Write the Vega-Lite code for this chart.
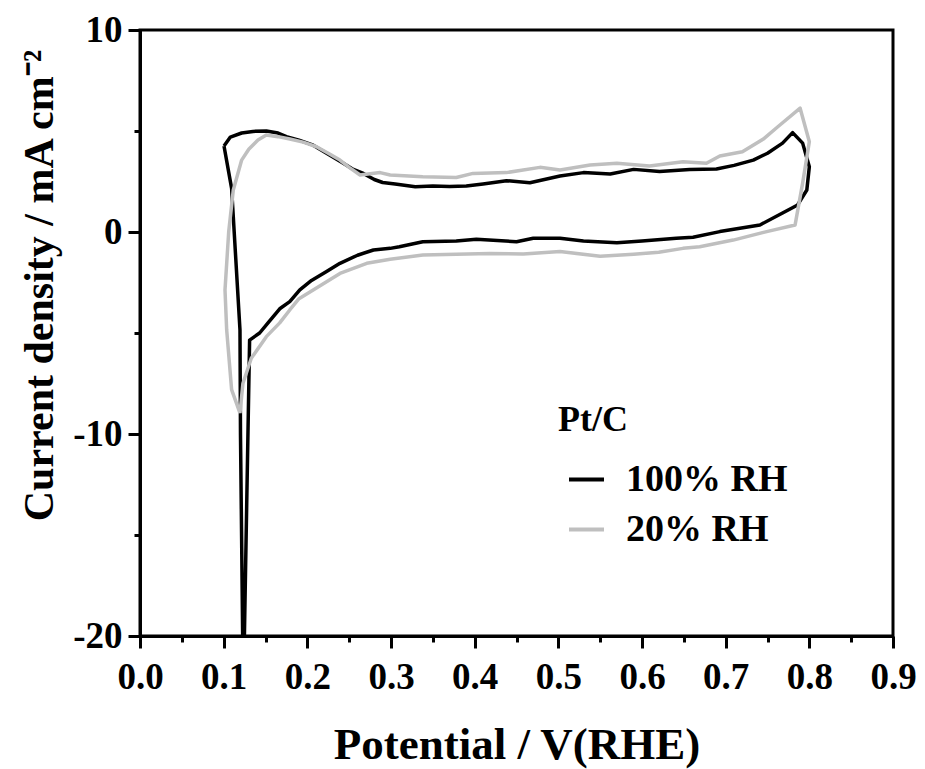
{
  "$schema": "https://vega.github.io/schema/vega-lite/v6.json",
  "width": 753,
  "height": 606,
  "autosize": {"type": "none"},
  "padding": {"left": 140, "top": 30, "right": 32, "bottom": 133},
  "background": "white",
  "config": {"view": {"stroke": "black", "strokeWidth": 3}, "font": "Liberation Serif"},
  "data": {"values": [
    {"s":"100% RH","i":1,"x":0.1004,"y":4.26},
    {"s":"100% RH","i":2,"x":0.108,"y":4.7},
    {"s":"100% RH","i":3,"x":0.1215,"y":4.9},
    {"s":"100% RH","i":4,"x":0.135,"y":4.98},
    {"s":"100% RH","i":5,"x":0.151,"y":5.0},
    {"s":"100% RH","i":6,"x":0.165,"y":4.9},
    {"s":"100% RH","i":7,"x":0.175,"y":4.72},
    {"s":"100% RH","i":8,"x":0.19,"y":4.55},
    {"s":"100% RH","i":9,"x":0.207,"y":4.3},
    {"s":"100% RH","i":10,"x":0.225,"y":3.85},
    {"s":"100% RH","i":11,"x":0.243,"y":3.4},
    {"s":"100% RH","i":12,"x":0.255,"y":3.1},
    {"s":"100% RH","i":13,"x":0.267,"y":2.9},
    {"s":"100% RH","i":14,"x":0.28,"y":2.6},
    {"s":"100% RH","i":15,"x":0.29,"y":2.45},
    {"s":"100% RH","i":16,"x":0.305,"y":2.38},
    {"s":"100% RH","i":17,"x":0.329,"y":2.24},
    {"s":"100% RH","i":18,"x":0.35,"y":2.28},
    {"s":"100% RH","i":19,"x":0.37,"y":2.25},
    {"s":"100% RH","i":20,"x":0.39,"y":2.28},
    {"s":"100% RH","i":21,"x":0.41,"y":2.38},
    {"s":"100% RH","i":22,"x":0.438,"y":2.54},
    {"s":"100% RH","i":23,"x":0.466,"y":2.44},
    {"s":"100% RH","i":24,"x":0.49,"y":2.66},
    {"s":"100% RH","i":25,"x":0.502,"y":2.77},
    {"s":"100% RH","i":26,"x":0.53,"y":2.94},
    {"s":"100% RH","i":27,"x":0.562,"y":2.87},
    {"s":"100% RH","i":28,"x":0.59,"y":3.1},
    {"s":"100% RH","i":29,"x":0.621,"y":2.99},
    {"s":"100% RH","i":30,"x":0.657,"y":3.1},
    {"s":"100% RH","i":31,"x":0.689,"y":3.12},
    {"s":"100% RH","i":32,"x":0.71,"y":3.3},
    {"s":"100% RH","i":33,"x":0.733,"y":3.56},
    {"s":"100% RH","i":34,"x":0.75,"y":3.9},
    {"s":"100% RH","i":35,"x":0.768,"y":4.4},
    {"s":"100% RH","i":36,"x":0.78,"y":4.92},
    {"s":"100% RH","i":37,"x":0.792,"y":4.4},
    {"s":"100% RH","i":38,"x":0.8,"y":3.23},
    {"s":"100% RH","i":39,"x":0.797,"y":2.08},
    {"s":"100% RH","i":40,"x":0.786,"y":1.34},
    {"s":"100% RH","i":41,"x":0.768,"y":0.94},
    {"s":"100% RH","i":42,"x":0.741,"y":0.35},
    {"s":"100% RH","i":43,"x":0.693,"y":0.02},
    {"s":"100% RH","i":44,"x":0.661,"y":-0.26},
    {"s":"100% RH","i":45,"x":0.641,"y":-0.31},
    {"s":"100% RH","i":46,"x":0.6,"y":-0.45},
    {"s":"100% RH","i":47,"x":0.57,"y":-0.53},
    {"s":"100% RH","i":48,"x":0.53,"y":-0.45},
    {"s":"100% RH","i":49,"x":0.502,"y":-0.31},
    {"s":"100% RH","i":50,"x":0.47,"y":-0.31},
    {"s":"100% RH","i":51,"x":0.45,"y":-0.48},
    {"s":"100% RH","i":52,"x":0.402,"y":-0.36},
    {"s":"100% RH","i":53,"x":0.378,"y":-0.45},
    {"s":"100% RH","i":54,"x":0.338,"y":-0.48},
    {"s":"100% RH","i":55,"x":0.31,"y":-0.73},
    {"s":"100% RH","i":56,"x":0.299,"y":-0.81},
    {"s":"100% RH","i":57,"x":0.279,"y":-0.89},
    {"s":"100% RH","i":58,"x":0.26,"y":-1.15},
    {"s":"100% RH","i":59,"x":0.239,"y":-1.55},
    {"s":"100% RH","i":60,"x":0.223,"y":-1.96},
    {"s":"100% RH","i":61,"x":0.205,"y":-2.4},
    {"s":"100% RH","i":62,"x":0.191,"y":-2.87},
    {"s":"100% RH","i":63,"x":0.179,"y":-3.45},
    {"s":"100% RH","i":64,"x":0.167,"y":-3.8},
    {"s":"100% RH","i":65,"x":0.163,"y":-4.0},
    {"s":"100% RH","i":66,"x":0.153,"y":-4.5},
    {"s":"100% RH","i":67,"x":0.143,"y":-5.0},
    {"s":"100% RH","i":68,"x":0.131,"y":-5.35},
    {"s":"100% RH","i":69,"x":0.1235,"y":-23},
    {"s":"100% RH","i":70,"x":0.1201,"y":-10},
    {"s":"100% RH","i":71,"x":0.1195,"y":-4.85},
    {"s":"100% RH","i":72,"x":0.1095,"y":2.16},
    {"s":"100% RH","i":73,"x":0.1004,"y":4.26},
    {"s":"20% RH","i":1,"x":0.1195,"y":-8.97},
    {"s":"20% RH","i":2,"x":0.1095,"y":-7.8},
    {"s":"20% RH","i":3,"x":0.1036,"y":-4.85},
    {"s":"20% RH","i":4,"x":0.1016,"y":-2.87},
    {"s":"20% RH","i":5,"x":0.106,"y":0},
    {"s":"20% RH","i":6,"x":0.1115,"y":2.08},
    {"s":"20% RH","i":7,"x":0.1215,"y":3.56},
    {"s":"20% RH","i":8,"x":0.13,"y":4.1},
    {"s":"20% RH","i":9,"x":0.141,"y":4.55},
    {"s":"20% RH","i":10,"x":0.151,"y":4.8},
    {"s":"20% RH","i":11,"x":0.165,"y":4.72},
    {"s":"20% RH","i":12,"x":0.179,"y":4.6},
    {"s":"20% RH","i":13,"x":0.195,"y":4.45},
    {"s":"20% RH","i":14,"x":0.211,"y":4.22},
    {"s":"20% RH","i":15,"x":0.225,"y":3.9},
    {"s":"20% RH","i":16,"x":0.239,"y":3.56},
    {"s":"20% RH","i":17,"x":0.25,"y":3.2},
    {"s":"20% RH","i":18,"x":0.263,"y":2.82},
    {"s":"20% RH","i":19,"x":0.275,"y":2.88},
    {"s":"20% RH","i":20,"x":0.287,"y":2.94},
    {"s":"20% RH","i":21,"x":0.299,"y":2.82},
    {"s":"20% RH","i":22,"x":0.338,"y":2.74},
    {"s":"20% RH","i":23,"x":0.378,"y":2.7},
    {"s":"20% RH","i":24,"x":0.398,"y":2.9},
    {"s":"20% RH","i":25,"x":0.438,"y":2.94},
    {"s":"20% RH","i":26,"x":0.478,"y":3.2},
    {"s":"20% RH","i":27,"x":0.502,"y":3.07},
    {"s":"20% RH","i":28,"x":0.538,"y":3.32},
    {"s":"20% RH","i":29,"x":0.57,"y":3.4},
    {"s":"20% RH","i":30,"x":0.609,"y":3.27},
    {"s":"20% RH","i":31,"x":0.649,"y":3.48},
    {"s":"20% RH","i":32,"x":0.677,"y":3.4},
    {"s":"20% RH","i":33,"x":0.693,"y":3.76},
    {"s":"20% RH","i":34,"x":0.72,"y":3.97},
    {"s":"20% RH","i":35,"x":0.745,"y":4.6},
    {"s":"20% RH","i":36,"x":0.762,"y":5.2},
    {"s":"20% RH","i":37,"x":0.789,"y":6.13},
    {"s":"20% RH","i":38,"x":0.8,"y":4.47},
    {"s":"20% RH","i":39,"x":0.792,"y":2.42},
    {"s":"20% RH","i":40,"x":0.783,"y":0.35},
    {"s":"20% RH","i":41,"x":0.749,"y":0.02},
    {"s":"20% RH","i":42,"x":0.709,"y":-0.4},
    {"s":"20% RH","i":43,"x":0.669,"y":-0.73},
    {"s":"20% RH","i":44,"x":0.649,"y":-0.81},
    {"s":"20% RH","i":45,"x":0.62,"y":-1.0},
    {"s":"20% RH","i":46,"x":0.59,"y":-1.1},
    {"s":"20% RH","i":47,"x":0.55,"y":-1.2},
    {"s":"20% RH","i":48,"x":0.502,"y":-0.97},
    {"s":"20% RH","i":49,"x":0.458,"y":-1.09},
    {"s":"20% RH","i":50,"x":0.418,"y":-1.06},
    {"s":"20% RH","i":51,"x":0.338,"y":-1.14},
    {"s":"20% RH","i":52,"x":0.299,"y":-1.35},
    {"s":"20% RH","i":53,"x":0.271,"y":-1.55},
    {"s":"20% RH","i":54,"x":0.239,"y":-2.05},
    {"s":"20% RH","i":55,"x":0.207,"y":-2.87},
    {"s":"20% RH","i":56,"x":0.19,"y":-3.3},
    {"s":"20% RH","i":57,"x":0.179,"y":-3.86},
    {"s":"20% RH","i":58,"x":0.167,"y":-4.5},
    {"s":"20% RH","i":59,"x":0.151,"y":-5.18},
    {"s":"20% RH","i":60,"x":0.133,"y":-6.25},
    {"s":"20% RH","i":61,"x":0.123,"y":-7.5},
    {"s":"20% RH","i":62,"x":0.1195,"y":-8.97}
  ]},
  "mark": {"type": "line", "strokeWidth": 3.5, "clip": true, "strokeJoin": "round"},
  "encoding": {
    "x": {
      "field": "x", "type": "quantitative",
      "scale": {"domain": [0, 0.9], "nice": false, "zero": false},
      "axis": {
        "title": "Potential / V(RHE)",
        "titleFontSize": 45, "titleFontWeight": "bold", "titleColor": "black",
        "titleX": 376.5, "titleY": 122, "titleBaseline": "alphabetic", "titleAlign": "center",
        "values": [0, 0.05, 0.1, 0.15, 0.2, 0.25, 0.3, 0.35, 0.4, 0.45, 0.5, 0.55, 0.6, 0.65, 0.7, 0.75, 0.8, 0.85, 0.9],
        "labelExpr": "round(datum.value*100) % 10 == 0 ? format(datum.value, '.1f') : ''",
        "labelFontSize": 37, "labelFontWeight": "bold", "labelColor": "black",
        "labelPadding": 11, "labelFlush": false, "labelOverlap": false,
        "tickSize": {"condition": {"test": "round(datum.value*100) % 10 == 0", "value": 12}, "value": 6},
        "tickWidth": 3, "tickColor": "black",
        "domainWidth": 3, "domainColor": "black", "grid": false
      }
    },
    "y": {
      "field": "y", "type": "quantitative",
      "scale": {"domain": [-20, 10], "nice": false, "zero": false},
      "axis": {
        "title": "Current density / mA cm⁻²",
        "titleFontSize": 42, "titleFontWeight": "bold", "titleColor": "black",
        "titleX": -88, "titleY": 255, "titleAngle": 270, "titleAlign": "center", "titleBaseline": "alphabetic",
        "values": [-20, -15, -10, -5, 0, 5, 10],
        "labelExpr": "datum.value % 10 == 0 ? ('' + datum.value) : ''",
        "labelFontSize": 37, "labelFontWeight": "bold", "labelColor": "black",
        "labelPadding": 6, "labelFlush": false, "labelOverlap": false,
        "tickSize": {"condition": {"test": "datum.value % 10 == 0", "value": 12}, "value": 6},
        "tickWidth": 3, "tickColor": "black",
        "domainWidth": 3, "domainColor": "black", "grid": false
      }
    },
    "color": {
      "field": "s", "type": "nominal",
      "scale": {"domain": ["100% RH", "20% RH"], "range": ["#000000", "#bfbfbf"]},
      "legend": {
        "orient": "none", "legendX": 418, "legendY": 373,
        "title": "Pt/C", "titleFontSize": 36, "titleFontWeight": "bold", "titleColor": "black", "titlePadding": 21,
        "labelFontSize": 38, "labelFontWeight": "bold", "labelColor": "black", "labelLimit": 400,
        "symbolType": "stroke", "symbolSize": 1225, "symbolStrokeWidth": 4, "symbolOffset": 9,
        "labelOffset": 20, "rowPadding": 11, "padding": 0, "direction": "vertical"
      }
    },
    "order": {"field": "i", "type": "quantitative"}
  }
}
